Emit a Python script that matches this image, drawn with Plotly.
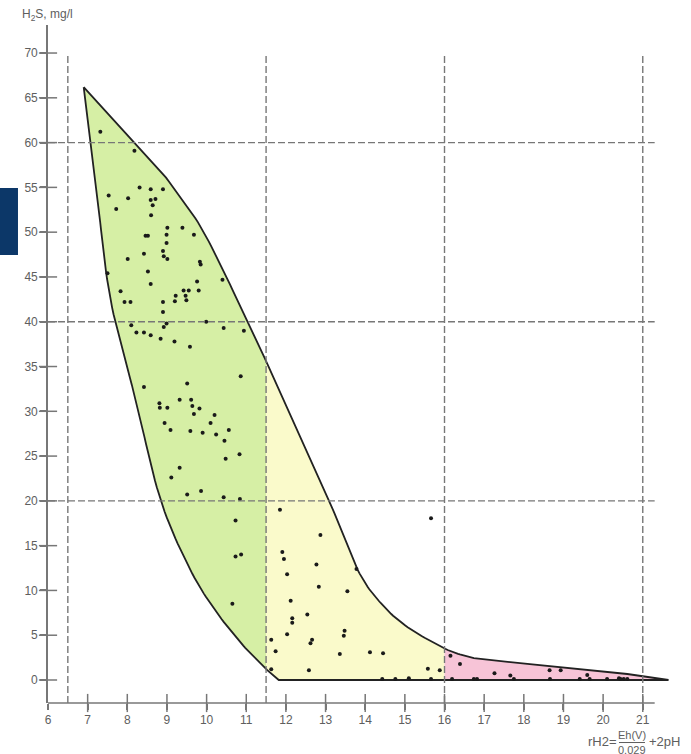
import numpy as np
import plotly.graph_objects as go

# ---------------- data ----------------
x_ticks = list(range(6, 22))
y_ticks = list(range(0, 71, 5))
grid_x = [6.5, 11.5, 16.0, 21.0]
grid_y = [20, 40, 60]
zone_edges = [6.90, 11.5, 16.0, 21.65]
zone_colors = ["#d6efa5", "#fafacb", "#f7c4d7"]

# outer envelope of the field
upper_x = [6.90, 8.91, 9.85, 10.78, 11.54, 13.08, 13.81, 14.39, 15.07, 16.08, 16.74, 18.09, 20.61, 21.65]
upper_y = [66.2, 56.5, 50.6, 42.4, 35.2, 20.1, 12.3, 8.6, 5.9, 3.35, 2.45, 1.79, 0.67, 0.0]
lower_x = [6.90, 7.25, 7.58, 8.21, 8.84, 9.59, 10.27, 11.02, 11.53, 11.82, 21.65]
lower_y = [66.2, 53.6, 42.4, 31.3, 20.1, 12.3, 7.45, 3.35, 1.1, 0.0, 0.0]

green_x = [7.32, 8.18, 8.31, 8.59, 8.90, 7.53, 8.02, 8.59, 8.71, 8.64,
           7.72, 8.60, 9.01, 9.39, 9.68, 8.46, 8.52, 8.99, 8.99, 8.42,
           8.90, 8.92, 9.01, 8.01, 9.83, 9.85, 8.52, 8.59, 9.76, 10.40,
           7.83, 9.42, 9.55, 9.80, 9.22, 9.47, 7.93, 8.08, 8.90, 9.20,
           9.49, 8.90, 8.10, 8.99, 8.92, 9.99, 10.43, 10.94, 8.23, 8.42,
           8.59, 8.84, 9.19, 9.58, 10.86, 9.51, 8.42, 9.32, 9.61, 9.64,
           8.81, 8.82, 9.01, 9.82, 9.68, 10.20, 10.10, 8.94, 9.09, 9.59,
           9.90, 10.24, 10.56, 10.45, 10.83, 10.48, 9.32, 9.11, 9.51, 9.86,
           10.43, 10.84, 10.73, 10.73, 10.87, 10.65, 7.50]
green_y = [61.2, 59.1, 55.0, 54.8, 54.8, 54.1, 53.8, 53.6, 53.7, 53.0,
           52.6, 51.9, 50.5, 50.5, 49.7, 49.6, 49.6, 49.7, 48.8, 47.6,
           47.9, 47.3, 47.0, 47.0, 46.7, 46.4, 45.6, 44.2, 44.5, 44.7,
           43.4, 43.5, 43.5, 43.5, 42.9, 42.9, 42.2, 42.2, 42.2, 42.3,
           42.4, 41.1, 39.6, 39.8, 39.4, 40.0, 39.3, 39.0, 38.8, 38.8,
           38.5, 38.1, 37.8, 37.2, 33.9, 33.1, 32.7, 31.3, 31.3, 30.6,
           30.9, 30.4, 30.4, 30.3, 29.7, 29.6, 28.7, 28.7, 27.9, 27.8,
           27.6, 27.4, 27.9, 26.7, 25.2, 24.7, 23.7, 22.6, 20.7, 21.1,
           20.4, 20.2, 17.8, 13.8, 14.0, 8.5, 45.4]

yellow_x = [11.85, 11.91, 11.95, 12.87, 12.77, 13.78, 12.03, 12.83, 13.55, 12.12,
            12.54, 12.16, 12.16, 13.48, 13.46, 12.03, 12.66, 12.62, 11.63, 11.74,
            13.36, 14.12, 14.45, 11.63, 12.58, 15.58, 15.88, 15.66, 14.43, 14.76,
            15.10, 15.66]
yellow_y = [19.0, 14.3, 13.5, 16.2, 12.9, 12.4, 11.8, 10.4, 9.9, 8.85,
            7.3, 6.9, 6.4, 5.5, 4.95, 5.1, 4.5, 4.1, 4.5, 3.2,
            2.9, 3.1, 3.0, 1.2, 1.1, 1.26, 1.1, 18.05, 0.1, 0.1,
            0.2, 0.1]

pink_x = [16.15, 16.39, 17.26, 17.66, 18.65, 18.93, 19.60, 20.40, 20.44, 16.19,
          16.74, 16.82, 17.75, 18.66, 19.41, 19.66, 20.10, 20.52, 20.61]
pink_y = [2.7, 1.8, 0.75, 0.5, 1.1, 1.1, 0.56, 0.2, 0.1, 0.1,
          0.1, 0.1, 0.1, 0.1, 0.1, 0.1, 0.1, 0.1, 0.1]

# ---------------- figure ----------------
X_MIN, X_MAX = 6.0, 21.838
Y_MIN, Y_MAX = -2.568, 73.13
AXIS_X_END = 21.3
GRID_Y_TOP = 70.0

AX = "#777777"
TXT = "#5e5e5e"
FONT = "Arial, Liberation Sans, sans-serif"


def catmull(xs, ys, n=14):
    """Smooth curve through the given vertices (Catmull-Rom)."""
    pts = np.column_stack([xs, ys]).astype(float)
    P = np.vstack([2 * pts[0] - pts[1], pts, 2 * pts[-1] - pts[-2]])
    out = []
    for i in range(1, len(P) - 2):
        p0, p1, p2, p3 = P[i - 1], P[i], P[i + 1], P[i + 2]
        for t in np.linspace(0, 1, n, endpoint=False):
            t2, t3 = t * t, t * t * t
            out.append(0.5 * (2 * p1 + (-p0 + p2) * t + (2 * p0 - 5 * p1 + 4 * p2 - p3) * t2
                              + (-p0 + 3 * p1 - 3 * p2 + p3) * t3))
    out.append(P[-2])
    out = np.array(out)
    return list(out[:, 0]), list(out[:, 1])


# smoothed envelope (straight top edge, curved flanks, straight base)
su_x, su_y = catmull(upper_x[1:11], upper_y[1:11])
up_x = [upper_x[0]] + su_x + upper_x[11:]
up_y = [upper_y[0]] + su_y + upper_y[11:]
sl_x, sl_y = catmull(lower_x[0:9], lower_y[0:9])
lo_x = sl_x + lower_x[9:]
lo_y = sl_y + lower_y[9:]
order_u = np.argsort(up_x)
up_x = list(np.array(up_x)[order_u]); up_y = list(np.array(up_y)[order_u])
order_l = np.argsort(lo_x)
lo_x = list(np.array(lo_x)[order_l]); lo_y = list(np.array(lo_y)[order_l])

fig = go.Figure()


def band(a, b):
    ux = [a] + [v for v in up_x if a < v < b] + [b]
    lx = [a] + [v for v in lo_x if a < v < b] + [b]
    uy = np.interp(ux, up_x, up_y)
    ly = np.interp(lx, lo_x, lo_y)
    return ux + lx[::-1], list(uy) + list(ly[::-1])


for i in range(3):
    bx, by = band(zone_edges[i], zone_edges[i + 1])
    fig.add_trace(go.Scatter(x=bx, y=by, fill="toself", fillcolor=zone_colors[i],
                             mode="lines", line=dict(width=0, color=zone_colors[i]),
                             hoverinfo="skip", showlegend=False))

fig.add_trace(go.Scatter(x=up_x + lo_x[::-1], y=up_y + lo_y[::-1],
                         mode="lines", line=dict(color="#222222", width=1.8),
                         hoverinfo="skip", showlegend=False))

fig.add_trace(go.Scatter(x=green_x + yellow_x + pink_x, y=green_y + yellow_y + pink_y,
                         mode="markers", marker=dict(size=4, color="#1a1a1a"),
                         showlegend=False))

# crossing tick marks
fig.add_trace(go.Scatter(x=[X_MIN] * len(y_ticks), y=y_ticks, mode="markers",
                         marker=dict(symbol="line-ew", size=13, line=dict(width=1.5, color=AX)),
                         cliponaxis=False, hoverinfo="skip", showlegend=False))
fig.add_trace(go.Scatter(x=x_ticks[1:], y=[Y_MIN] * (len(x_ticks) - 1), mode="markers",
                         marker=dict(symbol="line-ns", size=13, line=dict(width=1.5, color=AX)),
                         cliponaxis=False, hoverinfo="skip", showlegend=False))

shapes = []
for gx in grid_x:
    shapes.append(dict(type="line", xref="x", yref="y", x0=gx, x1=gx, y0=Y_MIN, y1=GRID_Y_TOP,
                       line=dict(color=AX, width=1.4, dash="7px,3px"), layer="above"))
for gy in grid_y:
    shapes.append(dict(type="line", xref="x", yref="y", x0=X_MIN, x1=AXIS_X_END, y0=gy, y1=gy,
                       line=dict(color=AX, width=1.4, dash="7px,3px"), layer="above"))
# x axis line
shapes.append(dict(type="line", xref="x", yref="paper", x0=X_MIN, x1=AXIS_X_END, y0=0, y1=0,
                   line=dict(color=AX, width=1.6), layer="above"))
# fraction bar of the x title
shapes.append(dict(type="line", xref="paper", yref="paper", x0=0.9092, x1=0.9506, y0=-0.0583, y1=-0.0583,
                   line=dict(color=TXT, width=1)))
# dark blue block at left edge
shapes.append(dict(type="rect", xref="paper", yref="paper", x0=-0.08, x1=-0.0478, y0=0.6608, y1=0.7596,
                   fillcolor="#0c3768", line=dict(width=0), layer="above"))

annotations = [
    dict(text="H<sub>2</sub>S, mg/l", xref="paper", yref="paper", x=-0.0446, y=1.0147,
         xanchor="left", yanchor="middle", showarrow=False, font=dict(size=12, color=TXT, family=FONT)),
    dict(text="rH2=", xref="paper", yref="paper", x=0.8567, y=-0.0575,
         xanchor="left", yanchor="middle", showarrow=False, font=dict(size=13, color=TXT, family=FONT)),
    dict(text="Eh(V)", xref="paper", yref="paper", x=0.930, y=-0.0472,
         xanchor="center", yanchor="middle", showarrow=False, font=dict(size=11, color=TXT, family=FONT)),
    dict(text="0.029", xref="paper", yref="paper", x=0.930, y=-0.0693,
         xanchor="center", yanchor="middle", showarrow=False, font=dict(size=11, color=TXT, family=FONT)),
    dict(text="+2pH", xref="paper", yref="paper", x=0.9538, y=-0.0575,
         xanchor="left", yanchor="middle", showarrow=False, font=dict(size=13, color=TXT, family=FONT)),
]

fig.update_layout(
    width=691, height=754,
    margin=dict(l=48, r=15, t=25, b=51, autoexpand=False),
    paper_bgcolor="white", plot_bgcolor="white",
    showlegend=False,
    font=dict(family=FONT, size=12, color=TXT),
    shapes=shapes,
    annotations=annotations,
    xaxis=dict(range=[X_MIN, X_MAX], tickvals=x_ticks, ticktext=[str(v) for v in x_ticks],
               showgrid=False, zeroline=False, showline=False,
               ticks="outside", ticklen=6, tickwidth=1.5, tickcolor=AX,
               tickfont=dict(size=12, color=TXT, family=FONT)),
    yaxis=dict(range=[Y_MIN, Y_MAX], tickvals=y_ticks, ticktext=[str(v) for v in y_ticks],
               showgrid=False, zeroline=False, showline=True, linecolor=AX, linewidth=1.6,
               ticks="outside", ticklen=6, tickwidth=1.5, tickcolor=AX,
               tickfont=dict(size=12, color=TXT, family=FONT)),
)

fig.write_html("out.html", config={"displayModeBar": False},
               post_script="document.body.style.margin='0';document.body.style.padding='0';")
